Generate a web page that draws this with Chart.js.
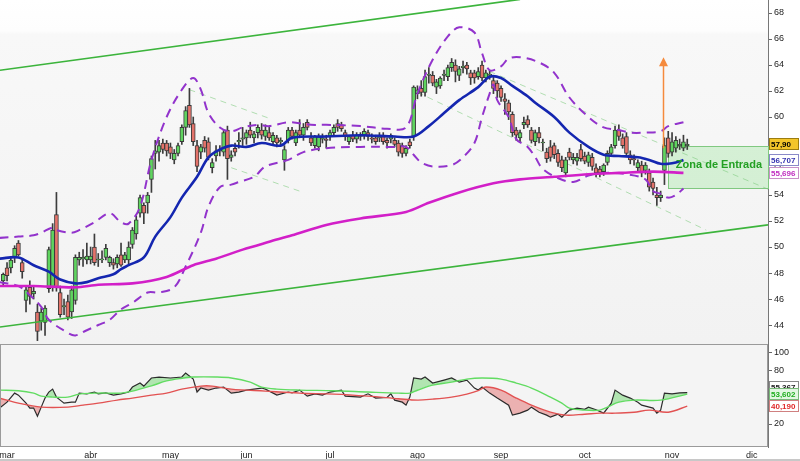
<!DOCTYPE html>
<html lang="es">
<head>
<meta charset="UTF-8">
<title>Cotización diaria con medias, bandas y oscilador</title>
<script src="https://cdn.jsdelivr.net/npm/chart.js"></script>
<style>
    body { margin: 0; background: #fff; }
    #wrap { position: relative; width: 800px; height: 461px; overflow: hidden; }
    #priceChart { position: absolute; left: 0; top: 0; }
    #oscChart { position: absolute; left: 0; top: 344px; }
    #frame { position: absolute; left: 0; top: 459px; width: 800px; height: 2px; background: #c8c8c8; }
</style>
</head>
<body>
<div id="wrap">
    <canvas id="priceChart" width="800" height="344"></canvas>
    <canvas id="oscChart" width="800" height="117"></canvas>
    <div id="frame"></div>
</div>
<script>
// trading-day index of the first candle, candles are [open, high, low, close]
const firstDay = -1;
const barsMar = [
    [47.4,48.0,47.0,47.9],[48.4,48.8,47.4,47.8],[48.4,49.2,48.0,49.0],[49.2,50.1,48.8,49.9],
    [50.3,50.5,49.3,49.4],[48.8,49.0,47.6,48.1],[45.9,47.0,45.0,46.7],[46.9,47.4,45.6,46.2],
    [46.4,46.9,46.0,46.6],[45.0,45.6,42.8,43.5],[44.3,45.3,43.6,45.0],[44.2,45.5,43.2,45.3],
    [46.8,50.0,46.5,49.8],[46.9,51.8,46.6,51.3],[52.5,54.2,46.6,46.9],[46.5,47.0,44.6,44.8],
    [45.4,46.0,44.8,45.5],[45.8,46.3,44.4,44.6],[45.0,47.0,44.5,46.7],[45.9,49.4,45.6,49.2],
    [49.0,49.6,48.6,49.2],[49.1,49.8,48.5,49.2],[49.0,50.3,48.7,49.3]
];
const barsApr = [
    [49.0,50.0,48.7,49.3],[50.0,51.0,48.6,48.8],[49.0,49.5,48.5,49.0],[49.0,49.7,48.8,49.1],
    [49.2,50.2,49.0,49.9],[48.8,49.3,48.5,49.2],[48.8,49.1,48.3,48.6],[48.7,49.4,48.4,49.2],
    [49.4,50.3,48.5,48.6],[49.0,49.6,48.8,49.4],[49.0,50.4,48.7,50.0],[50.2,51.5,49.9,51.3],
    [51.0,52.4,50.6,52.1],[52.6,54.0,52.3,53.8],[53.2,53.4,51.8,52.6],[53.4,54.2,52.6,54.0],
    [55.2,57.0,54.2,56.8],[57.2,58.2,56.0,57.4],[57.3,58.2,56.6,57.8],[58.0,58.3,57.2,57.5],
    [58.0,58.2,57.0,57.4]
];
const barsMay = [
    [57.7,58.0,56.8,57.2],[56.7,57.5,56.4,57.2],[57.2,58.0,57.0,57.8],[58.1,59.4,57.9,59.2],
    [59.2,60.8,58.6,60.5],[60.9,62.2,59.2,59.4],[59.5,60.0,57.8,58.1],[57.8,58.2,55.8,56.2],
    [57.3,57.9,56.8,57.7],[58.2,58.5,57.3,57.6],[58.1,58.4,56.7,56.9],[56.1,56.8,55.7,56.5],
    [57.0,57.8,56.6,57.4],[57.4,57.8,57.0,57.4],[57.3,59.0,57.0,58.8],[59.0,59.3,55.2,56.8],
    [56.9,57.4,56.6,57.1],[57.6,58.0,57.0,57.3],[58.1,58.8,57.6,58.2],[58.3,59.2,57.8,58.4]
];
const barsJun = [
    [58.4,59.0,57.9,58.8],[59.0,59.6,58.4,58.6],[58.4,58.9,58.0,58.7],[58.8,59.4,58.4,59.2],
    [59.0,59.5,58.3,58.6],[58.5,59.4,58.2,59.0],[58.8,59.2,58.2,58.4],[58.1,58.8,57.8,58.6],
    [58.4,58.6,57.7,58.0],[58.1,58.4,57.8,58.2],[56.7,57.8,55.9,57.5],[58.2,59.2,58.0,59.0],
    [59.0,59.2,58.3,58.5],[58.0,59.0,57.8,58.8],[59.0,59.8,58.4,58.6],[58.6,59.5,58.2,59.2],
    [59.6,59.8,59.0,59.2],[58.4,58.8,57.8,58.0],[57.8,58.6,57.6,58.5],[57.7,58.7,57.4,58.5],
    [58.3,58.7,58.0,58.4],[58.3,58.6,57.6,58.2]
];
const barsJul = [
    [58.5,59.0,58.2,58.8],[58.8,59.4,58.5,59.2],[59.5,59.8,58.9,59.2],[59.4,59.6,58.9,59.1],
    [58.8,59.0,58.2,58.5],[58.1,58.6,57.9,58.5],[58.6,58.9,58.1,58.3],[58.3,58.8,58.0,58.6],
    [58.5,58.8,58.2,58.5],[58.6,59.1,58.3,58.9],[58.8,59.0,58.2,58.5],[58.4,58.7,58.0,58.3],
    [58.4,58.6,57.9,58.1],[58.4,58.8,58.1,58.5],[58.5,58.8,57.9,58.1],[58.2,58.4,57.6,58.0],
    [58.3,58.7,58.0,58.6],[58.2,58.4,57.7,57.9],[58.0,58.2,57.0,57.3],[57.8,58.0,56.9,57.2],
    [57.2,57.8,57.0,57.6],[58.1,58.3,57.6,57.8],[58.5,62.4,58.2,62.3]
];
const barsAgo = [
    [61.8,62.4,61.4,62.1],[62.2,62.8,61.6,61.9],[61.9,63.6,61.6,63.1],[63.2,63.8,62.6,63.3],
    [63.2,63.5,62.4,62.6],[62.3,62.9,61.8,62.7],[62.4,63.1,62.2,63.0],[63.2,63.6,62.8,63.3],
    [63.1,64.0,62.8,63.8],[63.8,64.5,63.5,64.2],[64.0,64.4,62.7,63.5],[63.2,63.9,62.8,63.7],
    [63.8,64.3,63.4,63.9],[64.0,64.2,63.3,63.7],[63.4,63.6,62.5,63.0],[63.4,63.6,62.6,63.0],
    [63.1,63.8,62.9,63.5],[64.0,64.3,62.8,63.0],[63.0,63.6,62.7,63.4],[63.2,63.6,62.9,63.3],
    [62.8,63.2,61.8,62.2],[62.6,62.8,61.5,62.0]
];
const barsSep = [
    [62.2,62.4,61.2,61.5],[61.4,61.8,60.2,61.2],[61.1,61.3,59.8,60.4],[60.2,60.4,58.5,58.8],
    [59.0,59.2,58.2,58.6],[58.4,59.0,58.1,58.8],[59.4,60.0,59.1,59.6],[59.8,60.1,59.2,59.4],
    [59.0,59.2,58.0,58.2],[58.1,59.0,57.8,58.8],[58.8,59.2,58.0,58.4],[58.0,58.3,57.4,58.0],
    [57.3,57.6,56.5,56.8],[57.7,58.2,56.6,56.9],[57.8,58.0,56.8,57.1],[57.2,57.5,56.2,56.5],
    [56.7,57.0,55.8,56.1],[55.7,56.9,55.4,56.7],[57.3,57.6,56.7,56.9],[56.7,57.2,56.4,56.9],
    [56.6,57.2,56.3,56.9],[57.5,57.9,56.6,56.8]
];
const barsOct = [
    [57.0,57.3,56.4,56.6],[56.5,57.3,56.2,57.1],[56.9,57.2,55.9,56.2],[56.1,56.4,55.4,55.7],
    [56.0,56.2,55.4,55.7],[55.8,56.4,55.5,56.3],[56.5,57.4,56.3,57.2],[57.2,57.9,57.0,57.7],
    [57.8,59.3,57.6,59.0],[59.0,59.4,58.2,58.5],[58.4,58.7,57.6,57.8],[58.5,58.8,57.0,57.2],
    [57.1,57.4,56.4,56.7],[56.8,57.1,56.3,56.7],[56.1,56.7,55.8,56.5],[56.3,56.6,55.4,55.7],
    [55.9,56.5,55.6,56.3],[55.7,56.0,54.3,54.6],[55.0,55.3,54.0,54.5],[54.0,54.6,53.2,53.8],
    [53.8,54.3,53.5,54.0],[55.9,58.4,54.8,57.8],[58.4,58.9,56.9,57.2]
];
const barsNov = [
    [57.3,58.8,57.0,58.1],[57.6,58.5,57.3,58.2],[57.8,58.3,57.5,57.9],[57.6,58.6,57.4,58.1],
    [57.8,58.3,57.5,57.9]
];

// fast (blue) and slow (magenta) moving averages
const fastMaDays = [-2,3,7,11,14,18,21,24,28,30,32,36,39,43,46,50,53,56,59,63,67,72,75,84,93,102,107,111,115,119,124,127,130,133,137,139,144,148,153,157,161,166,169,172,174,176,178];
const fastMaValues = [49.1,49.2,48.6,48.1,47.5,47.2,47.3,47.6,47.9,48.3,48.6,49.2,50.8,52.3,53.8,55.4,56.9,57.5,57.8,57.7,58.0,57.8,58.4,58.5,58.6,58.5,58.5,59.3,60.3,61.3,62.3,63.1,63.0,62.4,61.6,61.1,60.0,58.8,57.7,57.1,57.0,56.9,56.7,56.4,56.4,56.5,56.7];
const slowMaDays = [-2,7,18,24,33,42,49,55,62,69,75,84,93,105,111,119,128,135,144,153,161,170,178];
const slowMaValues = [47.0,47.0,46.9,47.1,47.2,47.7,48.6,49.1,49.8,50.4,50.9,51.7,52.2,52.7,53.4,54.2,54.9,55.2,55.4,55.6,55.7,55.8,55.7];

// dashed bands
const bandTopDays = [-2,3,7,9,12,13,17,19,23,27,30,32,35,38,42,46,49,51,53,56,59,62,66,69,74,80,84,93,100,105,108,112,116,119,123,125,127,130,132,135,140,144,148,153,157,161,164,168,172,174,178];
const bandTopValues = [50.7,50.8,50.9,51.1,51.5,51.3,51.1,51.3,51.9,52.6,51.9,51.8,53.1,56.7,60.0,62.1,63.0,62.1,60.3,59.2,58.9,59.2,59.4,59.3,59.6,59.4,59.4,59.3,59.1,59.2,61.8,64.4,66.2,66.9,66.5,64.9,63.6,63.9,64.5,64.6,64.2,63.4,61.5,60.0,59.2,59.0,58.8,58.8,58.9,59.3,59.6];
const bandLowDays = [-2,3,6,9,11,16,18,21,24,27,30,33,37,40,44,47,51,53,56,59,61,65,68,74,78,84,93,102,105,107,109,112,117,120,123,125,127,128,129,132,134,137,139,141,145,149,153,157,163,168,170,172,174,176,178];
const bandLowValues = [47.3,47.0,46.3,45.4,44.4,43.4,43.2,43.6,44.0,44.4,45.2,45.7,46.5,46.5,46.9,48.5,51.1,53.1,54.6,54.8,55.0,55.4,56.2,56.7,57.3,57.6,57.7,57.7,57.7,57.1,56.5,56.2,56.3,56.9,58.0,60.0,61.8,62.5,61.3,60.0,58.3,57.7,56.9,56.0,55.3,55.0,55.5,55.7,55.6,55.2,54.3,54.1,53.8,54.0,54.5];

// trend channel (solid) and short channels (dashed), two points each
const trendUpDays = [-1.85, 135];
const trendUpValues = [63.6, 69.05];
const trendLowDays = [-1.85, 200.25];
const trendLowValues = [43.85, 51.7];
const mayUpDays = [48, 69];
const mayUpValues = [62.1, 59.9];
const mayLowDays = [59, 78];
const mayLowValues = [56.1, 54.2];
const augUpDays = [127, 200.25];
const augUpValues = [63.5, 54.45];
const augLowDays = [108, 184];
const augLowValues = [61.9, 51.3];

// entry zone and target arrow
const zoneStartDay = 173.9;
const zoneTop = 57.77;
const zoneBottom = 54.54;
const zoneText = 'Zona de Entrada';
const arrowDay = 172.6;
const arrowFrom = 57.6;
const arrowTo = 64.6;

// last-value tags
const priceTagValues = [57.90, 56.707, 55.696];
const priceTagTexts = ['57,90', '56,707', '55,696'];

// oscillator panel
const oscDays = [-2,0,2,3,5,6,7,8,9,10,11,12,13,14,15,17,18,19,21,23,24,26,28,30,32,33,35,36,38,40,43,46,47,49,50,51,53,55,57,59,61,63,67,68,71,74,75,77,79,81,83,85,88,89,93,95,97,100,101,102,104,105,106,107,109,110,112,115,117,119,121,123,124,125,127,129,132,133,135,137,138,140,142,143,145,146,148,150,152,153,155,157,159,160,162,164,166,167,170,171,172,173,175,177,179];
const oscValues = [37.9,44.6,54.8,52.5,43.5,37.9,37.9,28.8,39.0,49.2,56.0,59.3,50.3,46.9,43.5,44.6,44.6,54.8,54.0,56.0,54.0,55.0,52.5,54.0,56.0,61.6,66.1,62.7,71.8,72.9,71.8,72.9,77.4,70.6,56.0,60.5,58.2,60.5,61.6,54.8,56.0,58.2,60.5,59.3,52.5,56.0,55.0,58.2,51.4,54.0,52.5,56.0,58.2,51.4,50.3,54.0,49.2,50.0,54.0,46.9,44.6,41.2,50.3,71.8,70.6,72.9,66.1,69.5,71.8,67.2,69.5,60.5,58.2,61.6,54.8,49.2,41.2,30.0,32.2,35.6,39.0,33.3,30.0,27.7,31.0,27.7,35.6,37.9,36.5,39.0,36.0,32.2,43.5,58.2,52.5,49.2,44.6,41.2,37.9,32.2,35.6,54.8,54.0,55.0,55.4];
const greenLineDays = [-2,3,7,9,12,16,19,24,30,33,38,42,46,49,55,59,64,67,71,77,86,95,103,106,108,112,117,121,125,130,134,138,143,146,148,152,156,158,161,165,172,179];
const greenLineValues = [58.2,57.5,54.8,51.4,50.3,50.3,53.7,54.8,54.8,57.0,63.0,68.5,71.5,72.9,72.9,71.8,67.2,61.6,59.3,58.2,57.5,56.0,54.8,54.8,58.0,63.8,67.2,70.6,71.8,70.6,66.1,60.5,50.3,43.5,37.9,35.6,35.6,39.0,44.6,46.9,46.9,53.6];
const redLineDays = [-2,3,9,16,20,24,29,33,38,42,46,51,54,59,68,77,86,95,103,108,112,117,121,124,126,130,134,138,143,147,152,156,160,165,169,174,179];
const redLineValues = [49.2,43.5,39.0,39.0,41.2,43.5,46.9,49.2,52.5,54.8,59.3,62.7,62.7,59.3,57.0,54.8,53.7,51.4,48.5,46.9,48.0,50.3,53.7,57.5,61.6,58.2,49.2,41.2,33.3,30.0,31.0,32.2,32.2,33.3,35.6,33.3,40.2];
const oscTagValues = [55.367, 53.602, 40.19];
const oscTagTexts = ['55,367', '53,602', '40,190'];

// axes
const priceTicks = [44, 46, 48, 50, 52, 54, 56, 58, 60, 62, 64, 66, 68];
const oscTicks = [20, 40, 60, 80, 100];
const monthDays = [0, 22, 43, 63, 85, 108, 130, 152, 175, 196];
const monthLabels = ['mar', 'abr', 'may', 'jun', 'jul', 'ago', 'sep', 'oct', 'nov', 'dic'];
const dayMin = -1.85;
const dayMax = 200.25;

const allBars = [].concat(barsMar, barsApr, barsMay, barsJun, barsJul, barsAgo, barsSep, barsOct, barsNov);
const bodyData = allBars.map((b, k) => ({ x: firstDay + k, y: [b[0], b[3]] }));
const wickData = allBars.map((b, k) => ({ x: firstDay + k, y: [b[2], b[1]] }));

function pts(days, vals) {
    return days.map((d, k) => ({ x: d, y: vals[k] }));
}

function lineSet(data, color, width, extra) {
    return Object.assign({
        type: 'line', data: data, borderColor: color, borderWidth: width,
        pointRadius: 0, fill: false, tension: 0
    }, extra || {});
}

const priceTagStyles = [
    { color: '#000', bg: '#f3c52a', border: '#9c7d10' },
    { color: '#3434b0', bg: '#ffffff', border: '#8a8ac8' },
    { color: '#c02fc0', bg: '#ffffff', border: '#c890c8' }
];
const oscTagStyles = [
    { color: '#222', bg: '#ffffff', border: '#888', nudge: -6 },
    { color: '#1fae1f', bg: '#e2f7e2', border: '#78b878' },
    { color: '#e02a2a', bg: '#ffffff', border: '#d08080' }
];

function drawTags(chart, values, texts, styles) {
    const { ctx, chartArea: a, scales: { y } } = chart;
    ctx.save();
    ctx.font = 'bold 8px Arial';
    ctx.textBaseline = 'middle';
    values.forEach((v, k) => {
        const s = styles[k];
        const py = Math.round(y.getPixelForValue(v)) + (s.nudge || 0);
        ctx.fillStyle = s.bg;
        ctx.fillRect(a.right + 1, py - 6, 30, 12);
        ctx.strokeStyle = s.border;
        ctx.lineWidth = 1;
        ctx.strokeRect(a.right + 1.5, py - 5.5, 29, 11);
        ctx.fillStyle = s.color;
        ctx.fillText(texts[k], a.right + 3, py + 0.5);
    });
    ctx.restore();
}

const pricePanel = {
    id: 'pricePanel',
    beforeDraw(chart) {
        const { ctx, chartArea: a } = chart;
        ctx.save();
        ctx.fillStyle = '#fff';
        ctx.fillRect(0, 0, chart.width, chart.height);
        const g = ctx.createLinearGradient(0, a.top, 0, a.bottom);
        g.addColorStop(0, '#ffffff');
        g.addColorStop(0.09, '#fdfdfd');
        g.addColorStop(0.1, '#f8f8f8');
        g.addColorStop(1, '#f2f2f2');
        ctx.fillStyle = g;
        ctx.fillRect(a.left, a.top, a.width, a.height);
        ctx.restore();
    },
    beforeDatasetsDraw(chart) {
        const { ctx, chartArea: a, scales: { x, y } } = chart;
        const x0 = Math.round(x.getPixelForValue(zoneStartDay));
        const y0 = Math.round(y.getPixelForValue(zoneTop));
        const y1 = Math.round(y.getPixelForValue(zoneBottom));
        ctx.save();
        ctx.fillStyle = 'rgba(180, 234, 180, 0.5)';
        ctx.fillRect(x0, y0, a.right - x0, y1 - y0);
        ctx.strokeStyle = '#80c880';
        ctx.lineWidth = 1;
        ctx.strokeRect(x0 + 0.5, y0 + 0.5, a.right - x0, y1 - y0);
        ctx.restore();
    },
    afterDatasetsDraw(chart) {
        const { ctx, scales: { x, y } } = chart;
        ctx.save();
        // zone caption
        ctx.font = 'bold 11px Arial';
        ctx.fillStyle = '#23a023';
        ctx.textBaseline = 'middle';
        ctx.fillText(zoneText, x.getPixelForValue(zoneStartDay) + 8, y.getPixelForValue((zoneTop + zoneBottom) / 2) - 2);
        // arrow
        const ax = Math.round(x.getPixelForValue(arrowDay)) + 0.5;
        const ay0 = y.getPixelForValue(arrowFrom);
        const ay1 = y.getPixelForValue(arrowTo);
        ctx.strokeStyle = '#f58a3c';
        ctx.fillStyle = '#f58a3c';
        ctx.lineWidth = 1.5;
        ctx.beginPath();
        ctx.moveTo(ax, ay0);
        ctx.lineTo(ax, ay1 + 7);
        ctx.stroke();
        ctx.beginPath();
        ctx.moveTo(ax, ay1);
        ctx.lineTo(ax - 4.5, ay1 + 9);
        ctx.lineTo(ax + 4.5, ay1 + 9);
        ctx.closePath();
        ctx.fill();
        ctx.restore();
    },
    afterDraw(chart) {
        drawTags(chart, priceTagValues, priceTagTexts, priceTagStyles);
    }
};

const oscPanel = {
    id: 'oscPanel',
    beforeDraw(chart) {
        const { ctx, chartArea: a } = chart;
        ctx.save();
        ctx.fillStyle = '#fff';
        ctx.fillRect(0, 0, chart.width, chart.height);
        ctx.fillStyle = '#f4f4f4';
        ctx.fillRect(a.left, a.top, a.width, a.height);
        ctx.restore();
    },
    afterDraw(chart) {
        const { ctx, chartArea: a } = chart;
        ctx.save();
        ctx.strokeStyle = '#9a9a9a';
        ctx.lineWidth = 1;
        ctx.strokeRect(a.left + 0.5, a.top + 0.5, a.width - 1, a.height - 1);
        ctx.restore();
        drawTags(chart, oscTagValues, oscTagTexts, oscTagStyles);
    }
};

const tickFont = { family: 'Arial', size: 9 };

new Chart(document.getElementById('priceChart'), {
    type: 'line',
    data: {
        datasets: [
            lineSet(pts(trendUpDays, trendUpValues), '#3cb43c', 1.6, { order: 5 }),
            lineSet(pts(trendLowDays, trendLowValues), '#3cb43c', 1.6, { order: 5 }),
            lineSet(pts(mayUpDays, mayUpValues), 'rgba(120, 200, 120, 0.55)', 1, { borderDash: [6, 5], order: 9 }),
            lineSet(pts(mayLowDays, mayLowValues), 'rgba(120, 200, 120, 0.55)', 1, { borderDash: [6, 5], order: 9 }),
            lineSet(pts(augUpDays, augUpValues), 'rgba(120, 200, 120, 0.55)', 1, { borderDash: [6, 5], order: 9 }),
            lineSet(pts(augLowDays, augLowValues), 'rgba(120, 200, 120, 0.55)', 1, { borderDash: [6, 5], order: 9 }),
            {
                type: 'bar', data: wickData, grouped: false, barThickness: 1,
                backgroundColor: '#3c3c3c', borderWidth: 0, order: 8
            },
            {
                type: 'bar', data: bodyData, grouped: false, barThickness: 4,
                borderWidth: 1, borderColor: '#3a3a3a', borderSkipped: false, minBarLength: 1,
                backgroundColor: ctx => {
                    const b = allBars[ctx.dataIndex];
                    return b && b[3] >= b[0] ? '#5fd45f' : '#e4736a';
                },
                order: 7
            },
            lineSet(pts(bandTopDays, bandTopValues), '#9233cc', 2, { borderDash: [9, 6], tension: 0.35, order: 3 }),
            lineSet(pts(bandLowDays, bandLowValues), '#9233cc', 2, { borderDash: [9, 6], tension: 0.35, order: 3 }),
            lineSet(pts(slowMaDays, slowMaValues), '#d21fc8', 2.6, { tension: 0.3, order: 2 }),
            lineSet(pts(fastMaDays, fastMaValues), '#1426b0', 2.6, { tension: 0.35, order: 1 })
        ]
    },
    options: {
        responsive: false,
        animation: false,
        events: [],
        layout: { padding: 0 },
        plugins: { legend: { display: false }, tooltip: { enabled: false } },
        scales: {
            x: {
                type: 'linear', display: false, min: dayMin, max: dayMax, offset: false,
                grid: { offset: false }
            },
            y: {
                type: 'linear', position: 'right', min: 42.54, max: 69, beginAtZero: false,
                afterBuildTicks: axis => { axis.ticks = priceTicks.map(v => ({ value: v })); },
                afterFit: axis => { axis.width = 32; axis.paddingTop = 0; axis.paddingBottom = 0; },
                grid: { drawOnChartArea: false, tickLength: 4, color: '#666' },
                border: { color: '#777' },
                ticks: { padding: 2, font: tickFont, color: '#222' }
            }
        }
    },
    plugins: [pricePanel]
});

const greenFill = 'rgba(110, 214, 110, 0.5)';
const redFill = 'rgba(226, 110, 110, 0.5)';
const clear = 'rgba(0, 0, 0, 0)';

new Chart(document.getElementById('oscChart'), {
    type: 'line',
    data: {
        datasets: [
            lineSet(pts(greenLineDays, greenLineValues), '#62dc62', 1.4, { tension: 0.35 }),
            lineSet(pts(redLineDays, redLineValues), '#e25252', 1.4, { tension: 0.35 }),
            lineSet(pts(oscDays, oscValues), '#2b2b2b', 1.2, { fill: { target: 0, above: greenFill, below: clear } }),
            lineSet(pts(oscDays, oscValues), clear, 0, { fill: { target: 1, above: clear, below: redFill } })
        ]
    },
    options: {
        responsive: false,
        animation: false,
        events: [],
        layout: { padding: 0 },
        plugins: { legend: { display: false }, tooltip: { enabled: false } },
        scales: {
            x: {
                type: 'linear', position: 'bottom', min: dayMin, max: dayMax, offset: false,
                afterBuildTicks: axis => { axis.ticks = monthDays.map(v => ({ value: v })); },
                afterFit: axis => { axis.height = 14; axis.paddingLeft = 0; axis.paddingRight = 0; },
                grid: { drawOnChartArea: false, drawTicks: false, offset: false },
                border: { display: false },
                ticks: {
                    autoSkip: false, maxRotation: 0, padding: 3, font: tickFont, color: '#222',
                    callback: (v, k) => monthLabels[k]
                }
            },
            y: {
                type: 'linear', position: 'right', min: -5.9, max: 110.1, beginAtZero: false,
                afterBuildTicks: axis => { axis.ticks = oscTicks.map(v => ({ value: v })); },
                afterFit: axis => { axis.width = 32; axis.paddingTop = 0; axis.paddingBottom = 0; },
                grid: { drawOnChartArea: false, tickLength: 4, color: '#666' },
                border: { color: '#777' },
                ticks: { padding: 2, font: tickFont, color: '#222' }
            }
        }
    },
    plugins: [oscPanel]
});
</script>
</body>
</html>
